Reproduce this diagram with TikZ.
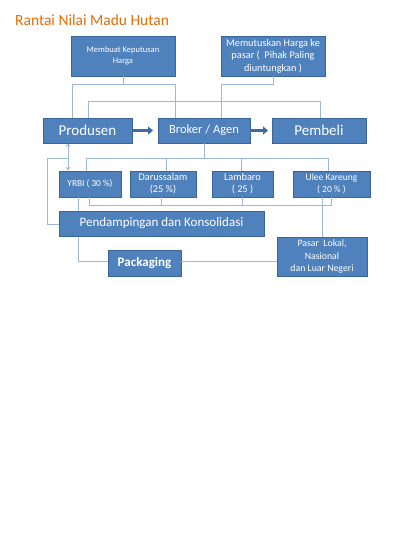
\documentclass[tikz,border=0pt]{standalone}
\usepackage{fontspec}
\setmainfont{Carlito}
\usetikzlibrary{arrows.meta}
\definecolor{boxfill}{HTML}{4F81BD}
\definecolor{boxdraw}{HTML}{3A6599}
\definecolor{connc}{HTML}{9DB7D9}
\definecolor{arrc}{HTML}{3F6BA5}
\definecolor{titlec}{HTML}{E46C0A}
\tikzset{
  box/.style={draw=boxdraw, line width=0.9pt, fill=boxfill, text=white, inner sep=1pt, align=center},
  conn/.style={draw=connc, line width=1pt},
  bigarr/.style={draw=arrc, line width=2.6pt, -{Triangle[length=5pt,width=8pt]}},
  dbl/.style={draw=connc, line width=0.9pt, {Straight Barb[length=2.5pt,width=4pt]}-{Straight Barb[length=2.5pt,width=4pt]}}
}
\begin{document}
\begin{tikzpicture}[x=1pt,y=-1pt]
\useasboundingbox (0,0) rectangle (400,550);
% title
\node[anchor=west, text=titlec, inner sep=0pt, font=\fontsize{15.5}{18}\selectfont] (title) at (15,20) {Rantai Nilai Madu Hutan};
\coordinate (c84a) at (120,84);
\coordinate (lb) at (68,158);
% top nodes
\node[box, minimum width=104pt, minimum height=40pt, font=\fontsize{8.5}{11}\selectfont] (mk) at (123,56) {Membuat Keputusan\\Harga};
\node[box, minimum width=104pt, minimum height=40pt, font=\fontsize{10.3}{12.5}\selectfont] (mh) at (273,56) {Memutuskan Harga ke\\pasar (\ \ Pihak Paling\\diuntungkan )};
% row 1
\node[box, minimum width=89pt, minimum height=25pt, font=\fontsize{15}{18}\selectfont] (prod) at (87.5,130.5) {Produsen};
\node[box, minimum width=92pt, minimum height=25pt, font=\fontsize{12.5}{15}\selectfont] (brok) at (204,130.5) {Broker / Agen};
\node[box, minimum width=94pt, minimum height=25pt, font=\fontsize{15}{18}\selectfont] (pemb) at (319,130.5) {Pembeli};
% row 2
\node[box, minimum width=62pt, minimum height=26pt, font=\fontsize{9.3}{11}\selectfont] (yrbi) at (90,184) {YRBI ( 30 \%)};
\node[box, minimum width=66pt, minimum height=26pt, font=\fontsize{10.3}{12}\selectfont] (daru) at (163,184) {Darussalam\\(25 \%)};
\node[box, minimum width=61pt, minimum height=26pt, font=\fontsize{10.3}{12}\selectfont] (lamb) at (242.5,184) {Lambaro\\( 25 )};
\node[box, minimum width=77pt, minimum height=26pt, font=\fontsize{9.5}{12}\selectfont] (ulee) at (331.5,184) {Ulee Kareung\\( 20 \% )};
% connectors
\draw[conn] (mk.south) -- (mk.south |- c84a);
\draw[conn] (prod.north -| 72,0) -- (72,84) -- (175,84) -- (brok.north -| 175,0);
\draw[conn] (mh.south) -- (mh.south |- c84a) -- (221,84) -- (brok.north -| 221,0);
\draw[conn] (prod.north -| 88,0) -- (88,101) -- (320,101) -- (pemb.north -| 320,0);
\draw[conn] (brok.south) -- (brok.south |- lb);
\draw[conn] (yrbi.north -| 86,0) -- (86,158) -- (328,158) -- (ulee.north -| 328,0);
\draw[conn] (daru.north -| 166,0) -- (166,158);
\draw[conn] (lamb.north -| 241,0) -- (241,158);
\draw[conn] (yrbi.south -| 89,0) -- (89,205) -- (331,205) -- (ulee.south -| 331,0);
\draw[conn] (daru.south -| 161,0) -- (161,205);
\draw[conn] (lamb.south -| 242,0) -- (242,205);
\draw[conn] (ulee.south -| 322,0) -- (322,237);
\draw[dbl] (prod.south -| 68,0) -- (yrbi.north -| 68,0);
\draw[conn] (yrbi.south -| 78,0) -- (78,261) -- (108,261);
\draw[conn] (59,224) -- (47,224) -- (47,158) -- (lb);
% row 3
\node[box, minimum width=205pt, minimum height=25pt, font=\fontsize{13}{15}\selectfont] (pend) at (161.5,223.5) {Pendampingan dan Konsolidasi};
\node[box, minimum width=73pt, minimum height=26pt, font=\fontsize{13}{15}\selectfont\bfseries] (pack) at (144.5,263) {Packaging};
\node[box, minimum width=90pt, minimum height=39pt, font=\fontsize{9.8}{12.5}\selectfont] (pasar) at (322,256.5) {Pasar\ \ Lokal,\\Nasional\\dan Luar Negeri};
\draw[conn] (pack.east |- 0,261) -- (pasar.west |- 0,261);
% thick arrows
\draw[bigarr] (prod.east) -- (153,130.5);
\draw[bigarr] (brok.east) -- (268,130.5);
\end{tikzpicture}
\end{document}
